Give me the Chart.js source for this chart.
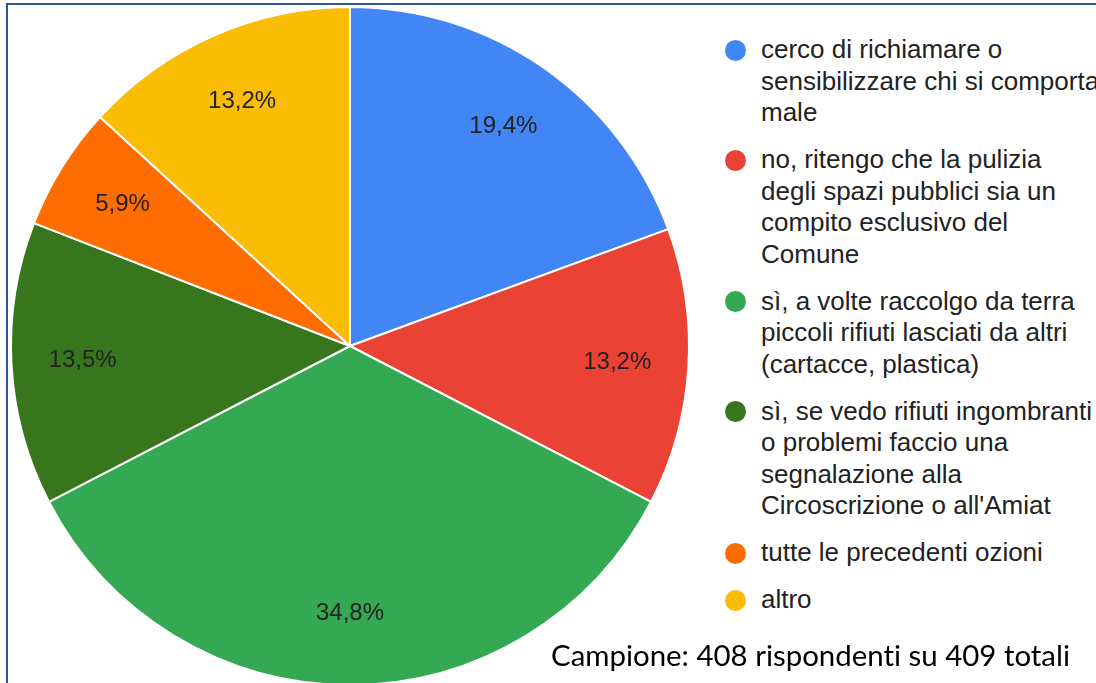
<!DOCTYPE html>
<html>
<head>
<meta charset="utf-8">
<script src="https://cdn.jsdelivr.net/npm/chart.js@4"></script>
<style>
  html, body { margin: 0; padding: 0; background: #fff; overflow: hidden; }
  body { width: 1096px; height: 683px; position: relative; }
  #frame {
    position: absolute; left: 6px; top: 3px; right: -10px; bottom: -10px;
    border-top: 2px solid #2f5597; border-left: 2px solid #2f5597;
  }
  #pieBox { position: absolute; left: 0; top: 0; width: 700px; height: 692px; }
  #legend {
    position: absolute; left: 724px; top: 34px; width: 420px;
    font-family: "Liberation Sans", Arial, sans-serif; font-size: 26px;
    line-height: 31.5px; color: #222;
  }
  .item { position: relative; padding-left: 37px; margin-bottom: 15.5px; white-space: pre-line; }
  .dot { position: absolute; left: 1px; top: 5.5px; width: 21px; height: 21px; border-radius: 50%; }
  #note {
    position: absolute; left: 551px; top: 638px;
    font-family: Lato, "Open Sans", sans-serif; font-size: 28px; color: #000;
    white-space: nowrap; transform-origin: left center;
    font-variant-ligatures: none; font-feature-settings: "liga" 0;
  }
</style>
</head>
<body>
<div id="frame"></div>
<div id="pieBox"><canvas id="pie"></canvas></div>
<div id="legend"></div>
<div id="note">Campione: 408 rispondenti su 409 totali</div>

<script>
/* ---------- data ---------- */
const categories = [
  'cerco di richiamare o\nsensibilizzare chi si comporta\nmale',
  'no, ritengo che la pulizia\ndegli spazi pubblici sia un\ncompito esclusivo del\nComune',
  'sì, a volte raccolgo da terra\npiccoli rifiuti lasciati da altri\n(cartacce, plastica)',
  'sì, se vedo rifiuti ingombranti\no problemi faccio una\nsegnalazione alla\nCircoscrizione o all\'Amiat',
  'tutte le precedenti ozioni',
  'altro'
];
const shares = [19.4, 13.2, 34.8, 13.5, 5.9, 13.2];
const sliceColours = ['#4285f4', '#ea4335', '#34a853', '#38761d', '#ff6d01', '#fbbc04'];

/* ---------- slice labels ---------- */
const sliceLabels = {
  id: 'sliceLabels',
  afterDatasetsDraw(chart) {
    const ctx = chart.ctx;
    const meta = chart.getDatasetMeta(0);
    ctx.save();
    ctx.font = '24px "Liberation Sans", Arial, sans-serif';
    ctx.fillStyle = '#222';
    ctx.textAlign = 'center';
    ctx.textBaseline = 'middle';
    meta.data.forEach((arc, i) => {
      const p = arc.getProps(['x', 'y', 'startAngle', 'endAngle', 'outerRadius'], true);
      const mid = (p.startAngle + p.endAngle) / 2;
      const r = p.outerRadius * 0.79;
      const txt = shares[i].toFixed(1).replace('.', ',') + '%';
      ctx.fillText(txt, p.x + Math.cos(mid) * r, p.y + Math.sin(mid) * r);
    });
    ctx.restore();
  }
};

new Chart(document.getElementById('pie'), {
  type: 'pie',
  data: {
    labels: categories,
    datasets: [{
      data: shares,
      backgroundColor: sliceColours,
      borderColor: '#ffffff',
      borderWidth: 2
    }]
  },
  options: {
    responsive: true,
    maintainAspectRatio: false,
    animation: false,
    layout: { padding: { left: 10, right: 10, top: 6, bottom: 6 } },
    plugins: {
      legend: { display: false },
      tooltip: { enabled: false }
    }
  },
  plugins: [sliceLabels]
});

/* ---------- legend ---------- */
const legend = document.getElementById('legend');
categories.forEach((c, i) => {
  const item = document.createElement('div');
  item.className = 'item';
  const dot = document.createElement('span');
  dot.className = 'dot';
  dot.style.background = sliceColours[i];
  item.appendChild(dot);
  item.appendChild(document.createTextNode(c));
  legend.appendChild(item);
});

/* fit note text to the width seen in the picture */
const note = document.getElementById('note');
note.style.transform = `scaleX(${519 / note.getBoundingClientRect().width})`;
</script>
</body>
</html>
